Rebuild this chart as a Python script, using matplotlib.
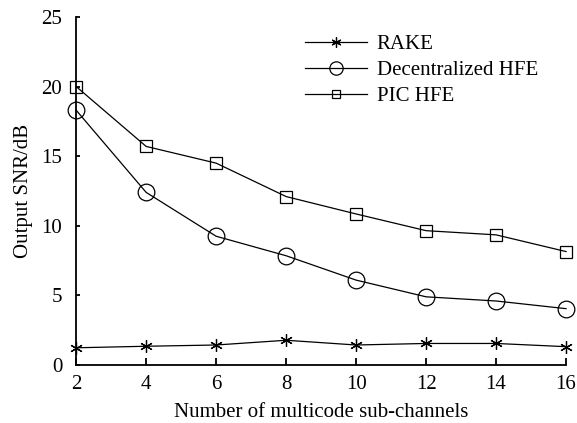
import matplotlib
matplotlib.use("Agg")
from matplotlib import pyplot as plt

channels = [2, 4, 6, 8, 10, 12, 14, 16]
rake = [1.24, 1.35, 1.44, 1.78, 1.44, 1.55, 1.55, 1.32]
decentralized_hfe = [18.3, 12.4, 9.25, 7.85, 6.1, 4.9, 4.6, 4.05]
pic_hfe = [20.0, 15.7, 14.5, 12.1, 10.85, 9.65, 9.35, 8.15]

plt.rcParams['font.family'] = ['Liberation Serif', 'DejaVu Serif']

fig = plt.figure(figsize=(5.77, 4.23), dpi=100)
ax = fig.add_axes([0.132, 0.137, 0.849, 0.823])

ax.plot(channels, rake, color='black', lw=0.9, marker=(6, 2, 0), ms=9, mew=0.9, label='RAKE')
ax.plot(channels, decentralized_hfe, color='black', lw=0.9, marker='o', ms=12, mfc='none', mew=0.9, label='Decentralized HFE')
ax.plot(channels, pic_hfe, color='black', lw=0.9, marker='s', ms=8, mfc='none', mew=0.9, label='PIC HFE')

ax.set_xlim(2, 16)
ax.set_ylim(0, 25)
ax.set_xticks(channels)
ax.set_yticks([0, 5, 10, 15, 20, 25])
ax.spines['top'].set_visible(False)
ax.spines['right'].set_visible(False)
ax.spines['left'].set_linewidth(1.3)
ax.spines['bottom'].set_linewidth(1.3)
ax.tick_params(axis='x', direction='in', length=5, width=1.3, labelsize=15, pad=7)
ax.tick_params(axis='y', direction='in', length=3, width=1.3, labelsize=15, pad=10)
for line in ax.lines:
    line.set_clip_on(False)

ax.set_xlabel('Number of multicode sub-channels', fontsize=15, labelpad=7)
ax.set_ylabel('Output SNR/dB', fontsize=15, labelpad=6)

ax.legend(loc='upper left', bbox_to_anchor=(0.441, 0.985), frameon=False, fontsize=15,
          handlelength=3.0, handletextpad=0.45, labelspacing=0.3, borderaxespad=0.2,
          markerscale=0.8)

plt.savefig('out.png', dpi=100)
